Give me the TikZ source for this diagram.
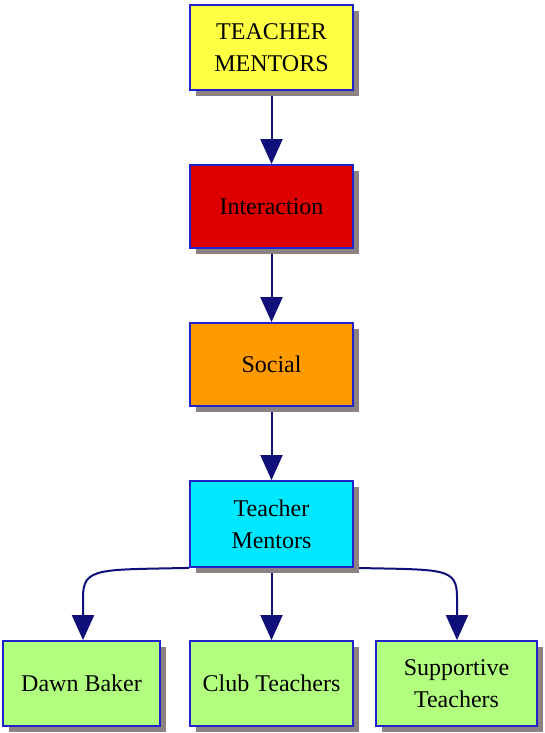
\documentclass[tikz,border=0pt]{standalone}
\usepackage{fontspec}
\setmainfont{Liberation Serif}
\usetikzlibrary{arrows.meta,shadows,calc}
\pgfdeclarelayer{background}
\pgfsetlayers{background,main}
\definecolor{boxedge}{HTML}{2222CC}
\definecolor{arrowblue}{HTML}{10107A}
\definecolor{shadowgray}{HTML}{8C8282}
\definecolor{cyellow}{HTML}{FFFF44}
\definecolor{cred}{HTML}{DE0000}
\definecolor{corange}{HTML}{FF9A00}
\definecolor{ccyan}{HTML}{00E8FF}
\definecolor{cgreen}{HTML}{B2FF80}
\tikzset{
  box/.style={draw=boxedge, line width=1.8pt, align=center, inner sep=0pt,
    minimum width=163pt, minimum height=84pt,
    font=\fontsize{24}{32}\selectfont,
    drop shadow={shadow xshift=6pt, shadow yshift=-6pt, fill=shadowgray, opacity=1}},
  arr/.style={draw=arrowblue, line width=2pt,
    -{Triangle[width=22pt,length=25pt]}}
}
\begin{document}
\begin{tikzpicture}[x=1pt,y=-1pt]
  \useasboundingbox (0,0) rectangle (545,733);
  % chain of boxes
  \node[box, fill=cyellow, minimum height=85pt] (top) at (271.5,47.5) {TEACHER\\MENTORS};
  \node[box, fill=cred, minimum height=83pt] (inter) at (271.5,206.5) {Interaction};
  \node[box, fill=corange, minimum height=83pt] (social) at (271.5,364.5) {Social};
  \node[box, fill=ccyan, minimum height=86pt] (tm) at (271.5,524) {Teacher\\Mentors};
  % bottom row
  \node[box, fill=cgreen, minimum width=157pt, minimum height=85pt] (dawn) at (81.5,683.5) {Dawn Baker};
  \node[box, fill=cgreen, minimum height=85pt] (club) at (271.5,683.5) {Club Teachers};
  \node[box, fill=cgreen, minimum width=161pt, minimum height=85pt] (supp) at (456.5,683.5) {Supportive\\Teachers};
  % bend points for the side branches
  \coordinate (dl) at ($(dawn.north)+(1.5,-43)$);
  \coordinate (sl) at ($(supp.north)+(0.5,-43)$);
  \begin{pgfonlayer}{background}
    \fill[white] (0,0) rectangle (545,733);
    \draw[arr] (top.south) -- (inter.north);
    \draw[arr] (inter.south) -- (social.north);
    \draw[arr] (social.south) -- (tm.north);
    \draw[arr] (tm.south) -- (club.north);
    \draw[arr] (tm.south west) .. controls +(-90,2) and +(0,-30) .. (dl) -- (dl |- dawn.north);
    \draw[arr] (tm.south east) .. controls +(90,2) and +(0,-30) .. (sl) -- (sl |- supp.north);
  \end{pgfonlayer}
\end{tikzpicture}
\end{document}
